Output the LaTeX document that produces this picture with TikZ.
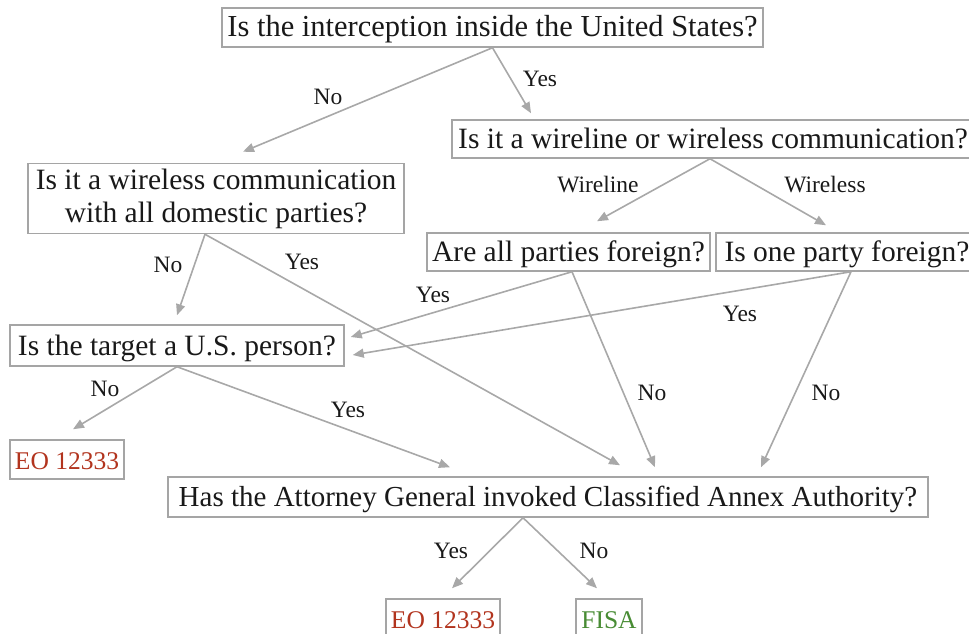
\documentclass[tikz,border=0pt]{standalone}
\usepackage{fontspec}
\setmainfont{Liberation Serif}
\usetikzlibrary{arrows.meta}
\definecolor{edgegray}{RGB}{168,168,168}
\definecolor{boxgray}{RGB}{165,165,165}
\definecolor{eored}{RGB}{178,52,30}
\definecolor{fisagreen}{RGB}{72,140,52}
\tikzset{
  qbox/.style={draw=boxgray, line width=1.5pt, fill=white, inner sep=0pt,
    align=center, font=\fontsize{29.5}{33}\selectfont, text=black!90},
  onel/.style={text height=24pt, text depth=5pt},
  outbox/.style={qbox, onel, font=\fontsize{25.5}{30}\selectfont},
  arr/.style={draw=edgegray, line width=1.6pt,
    -{Triangle[length=11pt,width=9pt]}},
  lab/.style={font=\fontsize{23.5}{26}\selectfont, text=black!90, inner sep=0pt},
}
\begin{document}
\begin{tikzpicture}[x=1pt,y=-1pt]
\useasboundingbox (0,0) rectangle (969,634);

% decision boxes
\node[qbox, onel, font=\fontsize{30.5}{33}\selectfont, minimum width=541, minimum height=39] (top) at (492.5,27.5)
  {Is the interception inside the United States?};
\node[qbox, onel, minimum width=522, minimum height=38] (wire) at (713,139)
  {Is it a wireline or wireless communication?};
\node[qbox, minimum width=376, minimum height=70] (dom) at (216,198.5)
  {Is it a wireless communication\\with all domestic parties?};
\node[qbox, onel, minimum width=283, minimum height=38] (allf) at (568.5,252)
  {Are all parties foreign?};
\node[qbox, onel, minimum width=262, minimum height=38] (onef) at (847,252)
  {Is one party foreign?};
\node[qbox, onel, minimum width=334, minimum height=41] (tgt) at (177,345.5)
  {Is the target a U.S.\ person?};
\node[qbox, onel, font=\fontsize{29}{33}\selectfont, minimum width=760, minimum height=40] (ag) at (548,497)
  {Has the Attorney General invoked Classified Annex Authority?};

% outcomes
\node[outbox, minimum width=114, minimum height=39, text=eored] (eoL) at (67,459.5) {EO 12333};
\node[outbox, minimum width=114, minimum height=40, text=eored] (eoB) at (443,619) {EO 12333};
\node[outbox, minimum width=66, minimum height=40, text=fisagreen] (fisa) at (609,619) {FISA};

% connectors
\draw[arr] (top.south) -- ([xshift=27,yshift=11]dom.north);
\draw[arr] (top.south) -- ([xshift=-182,yshift=6]wire.north);
\draw[arr] ([xshift=-3]wire.south) -- ([xshift=28.5,yshift=11]allf.north);
\draw[arr] ([xshift=-3]wire.south) -- ([xshift=-21,yshift=7]onef.north);
\draw[arr] ([xshift=-11]dom.south) -- ([yshift=9]tgt.north);
\draw[arr] ([xshift=-11]dom.south) -- ([xshift=72,yshift=11]ag.north);
\draw[arr] ([xshift=3.5]allf.south) -- ([xshift=6,yshift=8.5]tgt.east);
\draw[arr] ([xshift=3.5]allf.south) -- ([xshift=107,yshift=9]ag.north);
\draw[arr] ([xshift=4]onef.south) -- ([xshift=8,yshift=-9.5]tgt.east);
\draw[arr] ([xshift=4]onef.south) -- ([xshift=213,yshift=9]ag.north);
\draw[arr] (tgt.south) -- ([xshift=6,yshift=10]eoL.north);
\draw[arr] (tgt.south) -- ([xshift=-98,yshift=9]ag.north);
\draw[arr] ([xshift=-25]ag.south) -- ([xshift=9,yshift=10]eoB.north);
\draw[arr] ([xshift=-25]ag.south) -- ([xshift=-12,yshift=10]fisa.north);

% branch labels
\node[lab] (l1) at (328,97) {No};
\node[lab] (l2) at (540,79) {Yes};
\node[lab] (l3) at (598,185) {Wireline};
\node[lab] (l4) at (825,185) {Wireless};
\node[lab] (l5) at (168,265) {No};
\node[lab] (l6) at (302,262) {Yes};
\node[lab] (l7) at (433,295) {Yes};
\node[lab] (l8) at (652,393) {No};
\node[lab] (l9) at (740,314) {Yes};
\node[lab] (l10) at (826,393) {No};
\node[lab] (l11) at (105,389) {No};
\node[lab] (l12) at (348,410) {Yes};
\node[lab] (l13) at (451,551) {Yes};
\node[lab] (l14) at (594,551) {No};
\end{tikzpicture}
\end{document}
